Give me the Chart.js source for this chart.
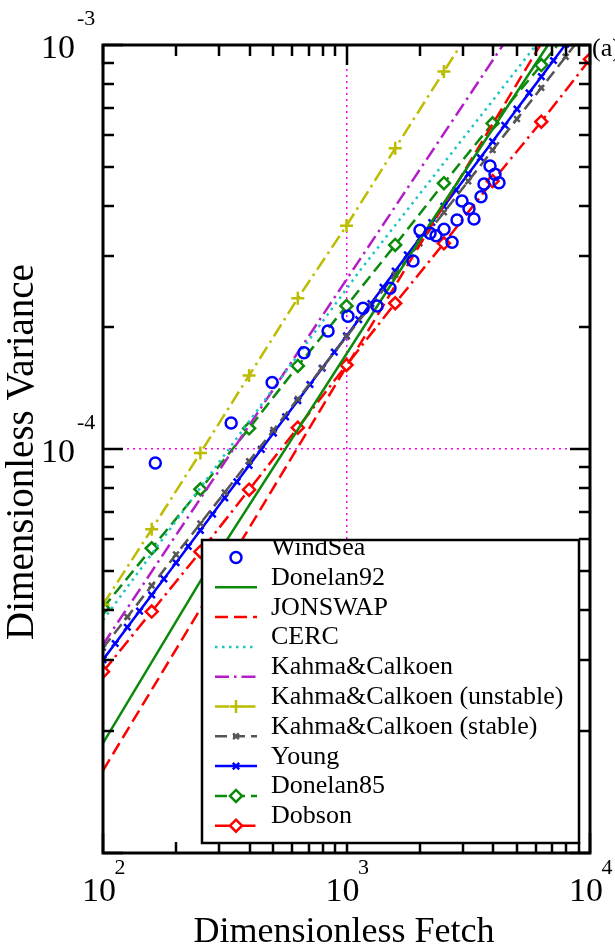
<!DOCTYPE html>
<html>
<head>
<meta charset="utf-8">
<script src="https://cdn.jsdelivr.net/npm/chart.js@4.4.1/dist/chart.umd.min.js"></script>
<style>
    html, body { margin: 0; padding: 0; background: #fff; }
    #wrap { width: 615px; height: 946px; }
</style>
</head>
<body>
<div id="wrap"><canvas id="waveChart" width="615" height="946"></canvas></div>
<script>
const X_MIN = 100, X_MAX = 10000;
const Y_MIN = 1e-5, Y_MAX = 1e-3;

// tick labels (mantissa 10, exponent shown as superscript)
const xTickLabels = [{ value: 100, exp: '2' }, { value: 1000, exp: '3' }, { value: 10000, exp: '4' }];
const yTickLabels = [{ value: 1e-3, exp: '-3' }, { value: 1e-4, exp: '-4' }];

// observations
const windSeaX = [164, 336, 495, 669, 840, 1014, 1169, 1335, 1509, 1876, 2004, 2203, 2332, 2515,
    2713, 2844, 2981, 3185, 3339, 3568, 3670, 3885, 4073, 4229];
const windSeaY = [9.23e-5, 1.16e-4, 1.46e-4, 1.73e-4, 1.96e-4, 2.13e-4, 2.23e-4, 2.26e-4, 2.50e-4,
    2.92e-4, 3.48e-4, 3.42e-4, 3.37e-4, 3.50e-4, 3.25e-4, 3.69e-4, 4.11e-4, 3.93e-4, 3.71e-4,
    4.21e-4, 4.53e-4, 5.02e-4, 4.79e-4, 4.56e-4];

// growth curves
const donelan92X = [100, 250, 2200, 6720];
const donelan92Y = [1.87e-5, 4.69e-5, 3.60e-4, 1.0e-3];

const jonswapX = [100, 6250];
const jonswapY = [1.6e-5, 1.0e-3];

const cercX = [100, 1154, 6000];
const cercY = [3.77e-5, 2.80e-4, 1.0e-3];

const kahmaX = [100, 4390];
const kahmaY = [3.28e-5, 1.0e-3];

const kahmaUnstableX = [100, 158.5, 251.2, 398.1, 631, 1000, 1585, 2512, 3981];
const kahmaUnstableY = [4.12e-5, 6.33e-5, 9.78e-5, 1.52e-4, 2.36e-4, 3.57e-4, 5.55e-4, 8.6e-4, 1.33e-3];

const kahmaStableX = [100, 125.9, 158.5, 199.5, 251.2, 316.2, 398.1, 501.2, 631, 794.3, 1000,
    1259, 1585, 1995, 2512, 3162, 3981, 5012, 6310, 7943, 10000];
const kahmaStableY = [3.22e-5, 3.84e-5, 4.59e-5, 5.48e-5, 6.54e-5, 7.81e-5, 9.33e-5, 1.114e-4,
    1.330e-4, 1.588e-4, 1.896e-4, 2.264e-4, 2.703e-4, 3.228e-4, 3.854e-4, 4.601e-4, 5.494e-4,
    6.560e-4, 7.832e-4, 9.352e-4, 1.117e-3];

const youngX = [100, 112.2, 125.9, 141.3, 158.5, 177.8, 199.5, 223.9, 251.2, 281.8, 316.2, 354.8,
    398.1, 446.7, 501.2, 562.3, 631.0, 707.9, 794.3, 891.3, 1000, 1122, 1259, 1413, 1585, 1778,
    1995, 2239, 2512, 2818, 3162, 3548, 3981, 4467, 5012, 5623, 6310, 7079, 7943];
const youngY = [3.01e-5, 3.30e-5, 3.62e-5, 3.97e-5, 4.35e-5, 4.77e-5, 5.23e-5, 5.74e-5, 6.29e-5,
    6.90e-5, 7.57e-5, 8.30e-5, 9.10e-5, 9.98e-5, 1.095e-4, 1.201e-4, 1.317e-4, 1.444e-4, 1.584e-4,
    1.737e-4, 1.905e-4, 2.090e-4, 2.292e-4, 2.514e-4, 2.757e-4, 3.024e-4, 3.316e-4, 3.637e-4,
    3.989e-4, 4.375e-4, 4.797e-4, 5.261e-4, 5.770e-4, 6.329e-4, 6.941e-4, 7.612e-4, 8.349e-4,
    9.156e-4, 1.004e-3];

const donelan85X = [100, 158.5, 251.2, 398.1, 631, 1000, 1585, 2512, 3981, 6310, 10000];
const donelan85Y = [4.04e-5, 5.68e-5, 7.95e-5, 1.125e-4, 1.605e-4, 2.26e-4, 3.20e-4, 4.55e-4,
    6.40e-4, 8.92e-4, 1.256e-3];

const dobsonX = [100, 158.5, 251.2, 398.1, 631, 1000, 1585, 2512, 3981, 6310, 10000];
const dobsonY = [2.81e-5, 3.96e-5, 5.57e-5, 7.93e-5, 1.129e-4, 1.614e-4, 2.295e-4, 3.23e-4,
    4.605e-4, 6.46e-4, 9.22e-4];

const SERIF = '"Liberation Serif", "Times New Roman", serif';

function makeSet(label, xs, ys, style) {
    return Object.assign({
        label: label,
        data: xs.map((v, i) => ({ x: v, y: ys[i] })),
        showLine: true,
        fill: false,
        borderWidth: 2.5,
        borderDash: [],
        pointRadius: 0,
        pointBorderWidth: 2.5,
        pointBackgroundColor: 'rgba(0,0,0,0)'
    }, style);
}

const datasets = [
    makeSet('WindSea', windSeaX, windSeaY, {
        showLine: false, borderColor: '#0000ff', pointStyle: 'circle', pointRadius: 5.5
    }),
    makeSet('Donelan92', donelan92X, donelan92Y, { borderColor: '#0b8a0b' }),
    makeSet('JONSWAP', jonswapX, jonswapY, { borderColor: '#ff0000', borderDash: [13, 6] }),
    makeSet('CERC', cercX, cercY, { borderColor: '#1cc4c4', borderDash: [2.5, 4.5] }),
    makeSet('Kahma&Calkoen', kahmaX, kahmaY, { borderColor: '#b41ec8', borderDash: [14, 5, 2.5, 5] }),
    makeSet('Kahma&Calkoen (unstable)', kahmaUnstableX, kahmaUnstableY, {
        borderColor: '#bcbc00', borderDash: [14, 5, 2.5, 5], pointStyle: 'cross', pointRadius: 6.5
    }),
    makeSet('Kahma&Calkoen (stable)', kahmaStableX, kahmaStableY, {
        borderColor: '#555555', borderDash: [12, 6], pointStyle: 'crossRot', pointRadius: 4
    }),
    makeSet('Young', youngX, youngY, {
        borderColor: '#0000ff', pointStyle: 'crossRot', pointRadius: 4.5
    }),
    makeSet('Donelan85', donelan85X, donelan85Y, {
        borderColor: '#0b8a0b', borderDash: [12, 6], pointStyle: 'rectRot', pointRadius: 6,
        pointBackgroundColor: '#ffffff'
    }),
    makeSet('Dobson', dobsonX, dobsonY, {
        borderColor: '#ff0000', borderDash: [14, 5, 2.5, 5], pointStyle: 'rectRot', pointRadius: 6,
        pointBackgroundColor: '#ffffff'
    })
];

// dotted magenta guide only at inner decades
function decadeGrid(ctx) {
    const v = ctx.tick && ctx.tick.value;
    if (!v) return 'rgba(0,0,0,0)';
    const l = Math.log10(v);
    const inner = v > ctx.scale.min * 1.0001 && v < ctx.scale.max * 0.9999;
    return (Math.abs(l - Math.round(l)) < 1e-9 && inner) ? '#ff00ff' : 'rgba(0,0,0,0)';
}

function isDecade(v) {
    const l = Math.log10(v);
    return Math.abs(l - Math.round(l)) < 1e-9;
}

function logTicks(min, max) {
    const out = [];
    for (let e = Math.floor(Math.log10(min)); e <= Math.ceil(Math.log10(max)); e++) {
        for (let m = 1; m <= 9; m++) {
            const v = m * Math.pow(10, e);
            if (v >= min * 0.9999 && v <= max * 1.0001) out.push(v);
        }
    }
    return out;
}

const frameLegend = {
    id: 'frameLegend',
    afterDatasetsDraw(chart) {
        const ctx = chart.ctx;
        const a = chart.chartArea;
        const xs = chart.scales.x, ys = chart.scales.y;
        ctx.save();
        ctx.setLineDash([]);
        ctx.strokeStyle = '#000';

        // inward ticks on all four sides
        ctx.lineWidth = 2.5;
        ctx.beginPath();
        logTicks(X_MIN, X_MAX).forEach(v => {
            const px = Math.round(xs.getPixelForValue(v));
            const len = isDecade(v) ? 20 : 11;
            ctx.moveTo(px, a.bottom); ctx.lineTo(px, a.bottom - len);
            ctx.moveTo(px, a.top); ctx.lineTo(px, a.top + len);
        });
        logTicks(Y_MIN, Y_MAX).forEach(v => {
            const py = Math.round(ys.getPixelForValue(v));
            const len = isDecade(v) ? 20 : 11;
            ctx.moveTo(a.left, py); ctx.lineTo(a.left + len, py);
            ctx.moveTo(a.right, py); ctx.lineTo(a.right - len, py);
        });
        ctx.stroke();

        ctx.lineWidth = 3;
        ctx.strokeRect(a.left, a.top, a.right - a.left, a.bottom - a.top);

        // legend box
        const L = { left: 202, top: 540, right: 579, bottom: 843 };
        ctx.fillStyle = '#fff';
        ctx.fillRect(L.left, L.top, L.right - L.left, L.bottom - L.top);
        ctx.save();
        ctx.beginPath();
        ctx.rect(L.left, L.top, L.right - L.left, L.bottom - L.top);
        ctx.clip();
        chart.data.datasets.forEach((ds, i) => {
            const base = 555 + i * 29.8;
            const sy = base + 2.5;
            if (ds.showLine !== false) {
                ctx.setLineDash(ds.borderDash || []);
                ctx.strokeStyle = ds.borderColor;
                ctx.lineWidth = 2.5;
                ctx.beginPath();
                ctx.moveTo(215, sy);
                ctx.lineTo(257, sy);
                ctx.stroke();
            }
            ctx.setLineDash([]);
            if (ds.pointRadius > 0) {
                ctx.strokeStyle = ds.borderColor;
                ctx.fillStyle = ds.pointBackgroundColor;
                ctx.lineWidth = 2.5;
                Chart.helpers.drawPoint(ctx, {
                    pointStyle: ds.pointStyle, radius: ds.pointRadius, borderWidth: 2.5, rotation: 0
                }, 236, sy);
            }
            ctx.fillStyle = '#000';
            ctx.font = '26px ' + SERIF;
            ctx.textAlign = 'left';
            ctx.textBaseline = 'alphabetic';
            ctx.fillText(ds.label, 271, base);
        });
        ctx.restore();
        ctx.setLineDash([]);
        ctx.strokeStyle = '#000';
        ctx.lineWidth = 2.5;
        ctx.strokeRect(L.left, L.top, L.right - L.left, L.bottom - L.top);

        // tick labels
        ctx.fillStyle = '#000';
        ctx.textBaseline = 'alphabetic';
        yTickLabels.forEach(t => {
            const py = ys.getPixelForValue(t.value);
            ctx.font = '34px ' + SERIF;
            ctx.textAlign = 'right';
            ctx.fillText('10', 75, py + 13);
            ctx.font = '22px ' + SERIF;
            ctx.textAlign = 'left';
            ctx.fillText(t.exp, 77, py - 20);
        });
        xTickLabels.forEach(t => {
            const px = xs.getPixelForValue(t.value);
            ctx.font = '34px ' + SERIF;
            ctx.textAlign = 'center';
            ctx.fillText('10', px - 4, 901);
            ctx.font = '22px ' + SERIF;
            ctx.fillText(t.exp, px + 17, 874);
        });

        // axis titles
        ctx.font = '36px ' + SERIF;
        ctx.textAlign = 'center';
        ctx.fillText('Dimensionless Fetch', 344, 942);
        ctx.save();
        ctx.translate(33, 452);
        ctx.rotate(-Math.PI / 2);
        ctx.font = '39px ' + SERIF;
        ctx.fillText('Dimensionless Variance', 0, 0);
        ctx.restore();

        ctx.font = '26px ' + SERIF;
        ctx.textAlign = 'left';
        ctx.fillText('(a)', 592, 56);
        ctx.restore();
    }
};

function initChart() {
    const ctx = document.getElementById('waveChart').getContext('2d');
    new Chart(ctx, {
        type: 'scatter',
        data: { datasets: datasets },
        options: {
            responsive: false,
            animation: false,
            devicePixelRatio: 1,
            layout: { padding: { left: 103, top: 45, right: 25, bottom: 93 } },
            plugins: { legend: { display: false }, tooltip: { enabled: false } },
            scales: {
                x: {
                    type: 'logarithmic', min: X_MIN, max: X_MAX,
                    ticks: { display: false },
                    grid: { drawTicks: false, color: decadeGrid, lineWidth: 1.5 },
                    border: { display: false, dash: [2, 4] }
                },
                y: {
                    type: 'logarithmic', min: Y_MIN, max: Y_MAX,
                    ticks: { display: false },
                    grid: { drawTicks: false, color: decadeGrid, lineWidth: 1.5 },
                    border: { display: false, dash: [2, 4] }
                }
            }
        },
        plugins: [frameLegend]
    });
}

window.onload = initChart;
</script>
</body>
</html>
